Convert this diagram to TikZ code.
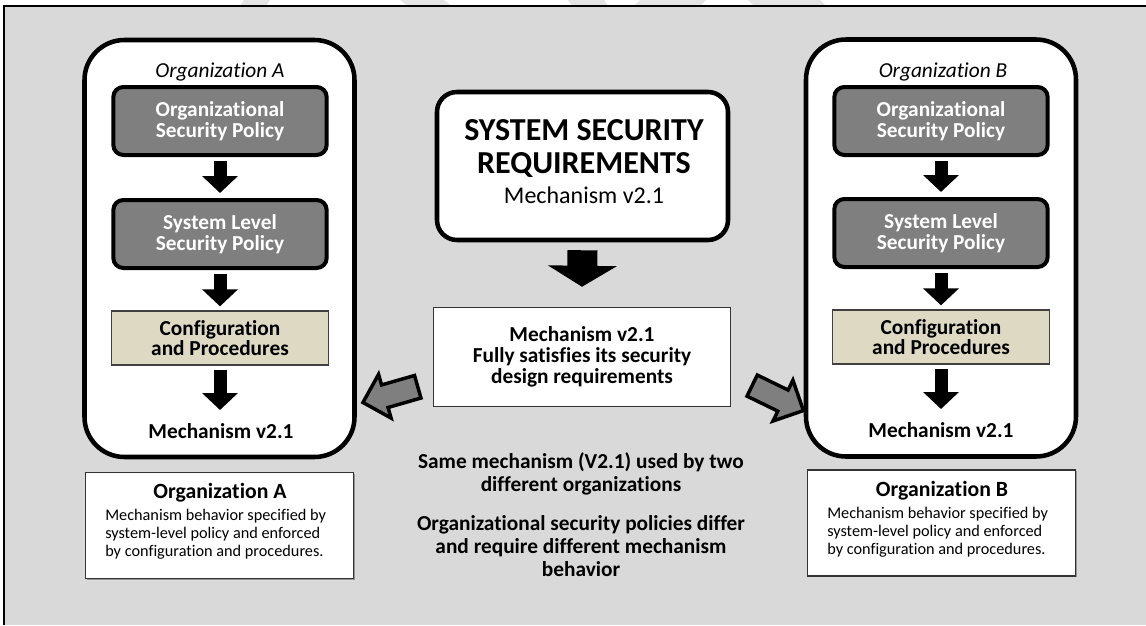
\documentclass[tikz,border=0pt]{standalone}
\usepackage{fontspec}
\setmainfont{Carlito}[Ligatures=NoCommon]
\usetikzlibrary{arrows.meta,shapes.arrows,shadows}
\definecolor{bgc}{HTML}{D9D9D9}
\definecolor{polc}{HTML}{7F7F7F}
\definecolor{cfgc}{HTML}{DDD9C3}
\definecolor{wmc}{HTML}{E4E4E4}
\newcommand{\fs}[2]{\fontsize{#1}{#2}\selectfont}
\begin{document}
\begin{tikzpicture}[x=0.75pt,y=-0.75pt,
  bigbox/.style={draw, line width=3.4pt, rounded corners=30pt, fill=white, inner sep=0pt, minimum width=202.5pt, minimum height=312.75pt},
  polbox/.style={draw, line width=3pt, rounded corners=7.5pt, fill=polc, text=white, font=\bfseries\fs{16}{15.4}, align=center, minimum width=160pt, minimum height=51pt, inner sep=0pt},
  cfgbox/.style={draw=black!75, line width=1pt, fill=cfgc, font=\bfseries\fs{16}{15.4}, align=center, minimum width=163pt, minimum height=40.5pt, inner sep=0pt},
  downarr/.style={line width=9.75pt, -{Triangle[width=26.25pt,length=12.75pt]}},
  bigarr/.style={line width=22.5pt, -{Triangle[width=51pt,length=15.75pt]}},
  grayarr/.style={single arrow, draw, line width=2.6pt, fill=polc, minimum height=42.75pt, minimum width=31.5pt, single arrow head extend=8.25pt, inner sep=0pt, text height=15pt, text depth=0pt, text width=0pt},
  hdr/.style={font=\itshape\fs{16}{18}, inner sep=0pt},
  mech/.style={font=\bfseries\fs{16}{18}, inner sep=0pt},
  orgbox/.style={draw=black!80, line width=1pt, fill=white, minimum width=201pt, minimum height=79.5pt, inner sep=0pt, drop shadow={shadow xshift=0.9pt, shadow yshift=-0.9pt, opacity=0.6, fill=black!60}},
  orgtitle/.style={font=\bfseries\fs{16.3}{18}, inner sep=0pt},
  orgtext/.style={font=\fs{12.2}{13.5}, align=left, inner sep=0pt},
  midtext/.style={font=\bfseries\fs{16}{16.9}, align=center, inner sep=0pt}
]
\useasboundingbox (0,0) rectangle (1146,625);
% watermark fragments in the top strip
\fill[wmc] (244,0) -- (270,0) -- (266,6) -- (240,6) -- cycle;
\fill[wmc] (400,0) -- (444,0) -- (452,6) -- (408,6) -- cycle;
\fill[wmc] (568,0) -- (604,0) -- (608,6) -- (572,6) -- cycle;
\fill[wmc] (640,0) -- (706,0) -- (700,6) -- (634,6) -- cycle;
\fill[wmc] (748,0) -- (820,0) -- (826,6) -- (754,6) -- cycle;
% background panel
\fill[bgc] (4,6) rectangle (1146,625);
\draw[line width=1.1pt] (4,625) -- (4,6) -- (1146,6);

% ---------- Organization A ----------
\node[bigbox] (boxA) at (219.5,248.5) {};
\node[hdr, anchor=base] (hA) at (220,77) {Organization A};
\node[polbox] (opA) at (220,121) {Organizational\\Security Policy};
\node[polbox] (spA) at (220,234) {System Level\\Security Policy};
\node[cfgbox] (cfA) at (220,338) {Configuration\\and Procedures};
\node[mech, anchor=base] (mA) at (221,438) {Mechanism v2.1};
\coordinate (mAtop) at (220,410);
\draw[downarr] ([yshift=-3pt]opA.south) -- ([yshift=3.75pt]spA.north);
\draw[downarr] ([yshift=-3pt]spA.south) -- ([yshift=3pt]cfA.north);
\draw[downarr] ([yshift=-3pt]cfA.south) -- (mAtop);

% ---------- Organization B ----------
\node[bigbox] (boxB) at (941,248) {};
\node[hdr, anchor=base] (hB) at (943,77) {Organization B};
\node[polbox] (opB) at (941,121) {Organizational\\Security Policy};
\node[polbox] (spB) at (941,233) {System Level\\Security Policy};
\node[cfgbox] (cfB) at (941,337) {Configuration\\and Procedures};
\node[mech, anchor=base] (mB) at (941,437) {Mechanism v2.1};
\coordinate (mBtop) at (941,409);
\draw[downarr] ([yshift=-3pt]opB.south) -- ([yshift=3.75pt]spB.north);
\draw[downarr] ([yshift=-3pt]spB.south) -- ([yshift=3pt]cfB.north);
\draw[downarr] ([yshift=-3pt]cfB.south) -- (mBtop);

% ---------- centre ----------
\node[draw, line width=3.4pt, rounded corners=15pt, fill=white, minimum width=218.25pt, minimum height=111pt, inner sep=0pt] (req) at (582.5,166) {};
\node[font=\bfseries\fs{24}{24.75}, align=center, inner sep=0pt, anchor=base] (reqt) at (584,173) {SYSTEM SECURITY\\REQUIREMENTS};
\node[font=\fs{18}{20}, inner sep=0pt, anchor=base] (reqs) at (584,203) {Mechanism v2.1};
\node[draw=black!80, line width=1.1pt, fill=white, minimum width=222.75pt, minimum height=74.25pt, inner sep=0pt, font=\bfseries\fs{16}{15.75}, align=center] (sat) at (582,357) {Mechanism v2.1\\Fully satisfies its security\\design requirements};
\draw[bigarr] ([yshift=-6pt]req.south) -- ([yshift=15pt]sat.north);

\node[grayarr, rotate=196] (gaL) at (396,393) {};
\node[grayarr, rotate=-26] (gaR) at (772.5,395.5) {};

\node[midtext, anchor=base] (m1) at (581,491) {Same mechanism (V2.1) used by two\\different organizations};
\node[midtext, anchor=base] (m2) at (581,576) {Organizational security policies differ\\and require different mechanism\\behavior};

% ---------- description boxes ----------
\node[orgbox] (dA) at (219.5,525.5) {};
\node[orgtitle, anchor=base] (dAt) at (220,498) {Organization A};
\node[orgtext, anchor=base west] (dAx) at (105,556) {Mechanism behavior specified by\\system-level policy and enforced\\by configuration and procedures.};
\node[orgbox] (dB) at (941.5,523) {};
\node[orgtitle, anchor=base] (dBt) at (942,496) {Organization B};
\node[orgtext, anchor=base west] (dBx) at (827,554) {Mechanism behavior specified by\\system-level policy and enforced\\by configuration and procedures.};
\end{tikzpicture}
\end{document}
